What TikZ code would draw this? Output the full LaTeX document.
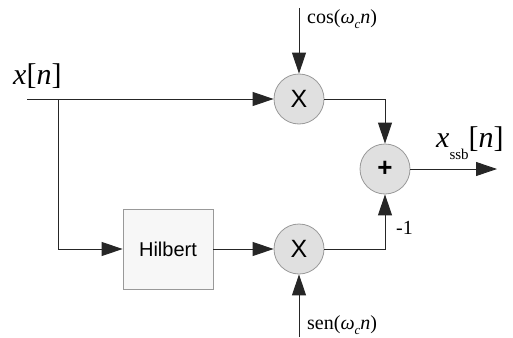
\documentclass[tikz,border=0pt]{standalone}
\usepackage{fontspec}
\setmainfont{Liberation Serif}
\newfontfamily\arial{Liberation Sans}
\usetikzlibrary{arrows.meta}
\begin{document}
\begin{tikzpicture}[x=1pt,y=-1pt,
  sig/.style={draw=black!85, line width=0.9pt},
  arr/.style={sig,-{Triangle[length=21pt,width=14pt]}},
  oper/.style={circle, draw=black!40, fill=black!12, minimum size=50pt, inner sep=0pt, font=\arial\fontsize{25}{25}\selectfont, line width=0.8pt},
  blk/.style={draw=black!40, fill=black!3, minimum width=90pt, minimum height=80pt, line width=0.8pt, font=\arial\fontsize{20}{20}\selectfont},
  lbl/.style={font=\fontsize{20}{20}\selectfont, inner sep=0pt},
  big/.style={font=\fontsize{30}{30}\selectfont, inner sep=0pt}]
\useasboundingbox (0,0) rectangle (513,337);
\node[oper] (m1) at (299,99) {X};
\node[oper] (m2) at (299,249) {X};
\node[oper, font=\arial\bfseries\fontsize{26}{26}\selectfont] (sum) at (385,169) {+};
\node[blk] (h) at (168,249) {Hilbert};
\coordinate (in) at (27,99);
\coordinate (br) at (58,99);
\coordinate (cosin) at (299,8);
\coordinate (senin) at (299,337);
\coordinate (out) at (497,169);
\draw[sig] (in) -- (br);
\draw[arr] (br) -- (m1);
\draw[arr] (br) |- (h);
\draw[arr] (h) -- (m2);
\draw[arr] (cosin) -- (m1);
\draw[arr] (senin) -- (m2);
\draw[arr] (m1) -| (sum);
\draw[arr] (m2) -| (sum);
\draw[arr] (sum) -- (out);
\node[big, anchor=base west] (xl) at (13,84) {\textit{x}[\textit{n}]};
\node[big, anchor=base west] (xo) at (436,147) {\textit{x}\raisebox{-12pt}{\fontsize{15}{15}\selectfont ssb}[\textit{n}]};
\node[lbl, anchor=base west] (cl) at (307,24) {cos(\textit{ω}\raisebox{-5pt}{\fontsize{13}{13}\selectfont\textit{c}}\textit{n})};
\node[lbl, anchor=base west] (sl) at (307,329) {sen(\textit{ω}\raisebox{-5pt}{\fontsize{13}{13}\selectfont\textit{c}}\textit{n})};
\node[lbl, anchor=base west] (ml) at (396,234) {-1};
\end{tikzpicture}
\end{document}
